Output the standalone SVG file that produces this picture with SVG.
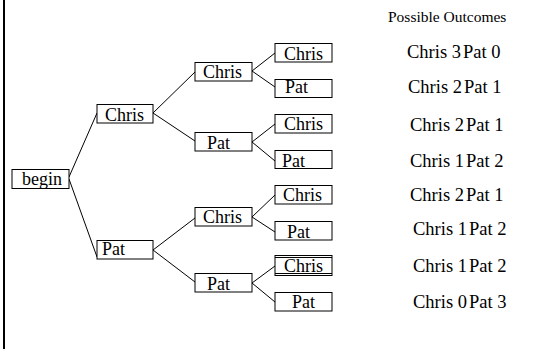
<svg xmlns="http://www.w3.org/2000/svg" width="560" height="349" viewBox="0 0 560 349">
<style>
.box{fill:#fff;stroke:#000;stroke-width:1}
.t{font-family:'Liberation Serif','DejaVu Serif',serif;font-size:18px;fill:#000}
.o{font-family:'Liberation Serif','DejaVu Serif',serif;font-size:18.5px;fill:#000}
.h{font-family:'Liberation Serif','DejaVu Serif',serif;font-size:15.5px;fill:#000}
.c{stroke:#000;stroke-width:1;fill:none}
</style>
<rect width="560" height="349" fill="#fff"/>
<line x1="4" y1="0" x2="4" y2="349" stroke="#000" stroke-width="2"/>
<g id="connectors">
<line class="c" x1="69" y1="177" x2="97" y2="113"/>
<line class="c" x1="69" y1="179" x2="97" y2="257"/>
<line class="c" x1="153" y1="113" x2="195" y2="72"/>
<line class="c" x1="153" y1="113" x2="195" y2="141"/>
<line class="c" x1="153" y1="250" x2="195" y2="218"/>
<line class="c" x1="153" y1="250" x2="195" y2="282"/>
<line class="c" x1="252" y1="71" x2="275" y2="53"/>
<line class="c" x1="252" y1="71" x2="275" y2="87"/>
<line class="c" x1="252" y1="142" x2="275" y2="124"/>
<line class="c" x1="252" y1="142" x2="275" y2="161"/>
<line class="c" x1="252" y1="217" x2="275" y2="195"/>
<line class="c" x1="252" y1="217" x2="275" y2="232"/>
<line class="c" x1="252" y1="283" x2="275" y2="266"/>
<line class="c" x1="252" y1="283" x2="275" y2="302"/>
</g>
<g id="begin"><rect class="box" x="12" y="169.5" width="57" height="19"/><text class="t" x="22" y="185">begin</text></g>
<g id="l1-chris"><rect class="box" x="97" y="104.5" width="56" height="18.5"/><text class="t" x="105" y="121">Chris</text></g>
<g id="l1-pat"><rect class="box" x="97" y="240.5" width="56" height="18.5"/><text class="t" x="102" y="255">Pat</text></g>
<g id="l2-chris-a"><rect class="box" x="195" y="62.5" width="57" height="18.5"/><text class="t" x="203" y="78">Chris</text></g>
<g id="l2-pat-a"><rect class="box" x="195" y="132.5" width="57" height="18.5"/><text class="t" x="207" y="149">Pat</text></g>
<g id="l2-chris-b"><rect class="box" x="195" y="207.5" width="57" height="18.5"/><text class="t" x="203" y="223">Chris</text></g>
<g id="l2-pat-b"><rect class="box" x="195" y="273.5" width="57" height="18.5"/><text class="t" x="207" y="290">Pat</text></g>
<g id="l3-1"><rect class="box" x="275" y="43.5" width="57" height="18.5"/><text class="t" x="284" y="60">Chris</text></g>
<g id="l3-2"><rect class="box" x="275" y="79.5" width="57" height="18"/><text class="t" x="285" y="93">Pat</text></g>
<g id="l3-3"><rect class="box" x="275" y="114.5" width="57" height="18.5"/><text class="t" x="284" y="130">Chris</text></g>
<g id="l3-4"><rect class="box" x="275" y="150.5" width="57" height="18"/><text class="t" x="282" y="167">Pat</text></g>
<g id="l3-5"><rect class="box" x="275" y="185.5" width="57" height="18.5" stroke-width="1.5"/><text class="t" x="283" y="201">Chris</text></g>
<g id="l3-6"><rect class="box" x="275" y="221.5" width="57" height="18.5"/><text class="t" x="287" y="238">Pat</text></g>
<g id="l3-7"><rect class="box" x="275" y="255.5" width="57" height="20"/><line class="c" x1="275" y1="257.5" x2="332" y2="257.5"/><line class="c" x1="275" y1="273.5" x2="332" y2="273.5"/><text class="t" x="284" y="272">Chris</text></g>
<g id="l3-8"><rect class="box" x="275" y="292.5" width="57" height="18.5"/><text class="t" x="292" y="308">Pat</text></g>
<g id="outcomes">
<text class="h" x="388" y="22">Possible Outcomes</text>
<text class="o" x="407" y="58"><tspan>Chris 3</tspan><tspan dx="2">Pat 0</tspan></text>
<text class="o" x="408" y="93"><tspan>Chris 2</tspan><tspan dx="2">Pat 1</tspan></text>
<text class="o" x="410" y="131"><tspan>Chris 2</tspan><tspan dx="2">Pat 1</tspan></text>
<text class="o" x="410" y="167"><tspan>Chris 1</tspan><tspan dx="2">Pat 2</tspan></text>
<text class="o" x="410" y="201"><tspan>Chris 2</tspan><tspan dx="2">Pat 1</tspan></text>
<text class="o" x="413" y="235"><tspan>Chris 1</tspan><tspan dx="2">Pat 2</tspan></text>
<text class="o" x="413" y="272"><tspan>Chris 1</tspan><tspan dx="2">Pat 2</tspan></text>
<text class="o" x="413" y="308"><tspan>Chris 0</tspan><tspan dx="2">Pat 3</tspan></text>
</g>
</svg>
